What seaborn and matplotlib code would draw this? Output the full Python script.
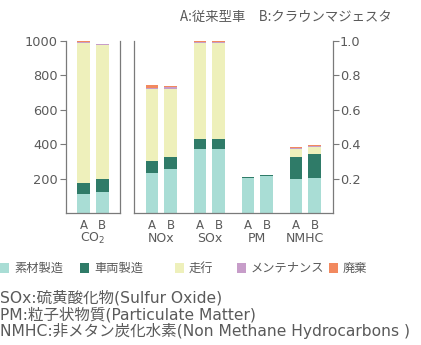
import numpy as np
import pandas as pd
import matplotlib
matplotlib.use("Agg")
import matplotlib.pyplot as plt
import matplotlib.patches as mpatches
import seaborn as sns

# ---- data -------------------------------------------------------------
cars = ["A", "B"]
stages = ["素材製造", "車両製造", "走行", "メンテナンス", "廃棄"]
stage_colors = ["#a9ddd5", "#2f7b68", "#eef0bb", "#c79dc9", "#f2895f"]

# CO2 (left axis, 0-1000), values per stage for A and B
co2_A = [113, 64, 813, 5, 5]
co2_B = [122, 74, 779, 5, 4]

# other emissions (right axis, relative 0-1.0)
pollutants = ["NOx", "SOx", "PM", "NMHC"]
nox_A = [0.233, 0.071, 0.419, 0.006, 0.014]
nox_B = [0.253, 0.071, 0.399, 0.012, 0.005]
sox_A = [0.371, 0.060, 0.555, 0.008, 0.004]
sox_B = [0.371, 0.060, 0.555, 0.008, 0.004]
pm_A = [0.203, 0.008, 0.0, 0.0, 0.0]
pm_B = [0.215, 0.004, 0.0, 0.0, 0.0]
nmhc_A = [0.195, 0.129, 0.049, 0.006, 0.004]
nmhc_B = [0.201, 0.143, 0.039, 0.006, 0.006]

left_ticks = [200, 400, 600, 800, 1000]
right_ticks = [0.2, 0.4, 0.6, 0.8, 1.0]
right_tick_labels = ["0.2", "0.4", "0.6", "0.8", "1.0"]

title_text = "A:従来型車　B:クラウンマジェスタ"
notes = [
    "SOx:硫黄酸化物(Sulfur Oxide)",
    "PM:粒子状物質(Particulate Matter)",
    "NMHC:非メタン炭化水素(Non Methane Hydrocarbons )",
]

# ---- style ------------------------------------------------------------
sns.set_theme(style="white")
plt.rcParams["font.family"] = ["Noto Sans CJK JP", "DejaVu Sans"]
plt.rcParams["mathtext.default"] = "regular"
LATIN = ["DejaVu Sans", "Noto Sans CJK JP"]
TXT = "#5a5a5a"
SPINE = "#7a7a7a"

W, H = 421, 345
fig = plt.figure(figsize=(W / 100, H / 100), dpi=100)


def px_axes(x0, x1, y0, y1):
    return fig.add_axes([x0 / W, 1 - y1 / H, (x1 - x0) / W, (y1 - y0) / H])


def long_table(names, rows):
    recs = []
    for name, (a, b) in zip(names, rows):
        for car, vals in zip(cars, (a, b)):
            cum = np.cumsum(vals)
            for k, st in enumerate(stages):
                recs.append({"cat": name, "car": car, "stage": st, "cum": cum[k]})
    return pd.DataFrame(recs)


def stacked(ax, df, order):
    # draw cumulative totals from the top stage down so each layer shows
    for k in range(len(stages) - 1, -1, -1):
        sub = df[df["stage"] == stages[k]]
        sns.barplot(data=sub, x="cat", y="cum", hue="car", order=order,
                    hue_order=cars, palette={c: stage_colors[k] for c in cars},
                    dodge=True, width=0.77, gap=0.3, legend=False, ax=ax,
                    linewidth=0, clip_on=False, saturation=1, errorbar=None)


def x_labels(ax, order):
    pos, labs = [], []
    for i, _ in enumerate(order):
        for j, car in enumerate(cars):
            pos.append(i + (j - 0.5) * 0.385)
            labs.append(car)
    ax.set_xticks(pos, labs)
    ax.tick_params(axis="x", length=0, pad=4, labelsize=8.5, colors=TXT)
    for t in ax.get_xticklabels():
        t.set_family(LATIN)
    for i, name in enumerate(order):
        ax.annotate(name, xy=(i, 0), xycoords=("data", "axes fraction"),
                    xytext=(0, -18.5), textcoords="offset points",
                    ha="center", va="center", fontsize=9, color=TXT,
                    family=LATIN)


# ---- CO2 panel --------------------------------------------------------
ax1 = px_axes(66, 120, 41, 213)
co2_df = long_table(["CO$_2$"], [(co2_A, co2_B)])
stacked(ax1, co2_df, ["CO$_2$"])
ax1.set_xlim(-0.5625, 0.5625)
ax1.set_ylim(0, 1000)
ax1.set_yticks(left_ticks, [str(t) for t in left_ticks])
ax1.tick_params(axis="y", left=True, direction="out", length=4, width=0.8,
                color=SPINE, labelsize=9.3, labelcolor=TXT, pad=2)
x_labels(ax1, ["CO$_2$"])

# ---- other emissions panel ------------------------------------------
ax2 = px_axes(134, 333, 41, 213)
oth_df = long_table(pollutants, [(nox_A, nox_B), (sox_A, sox_B),
                                 (pm_A, pm_B), (nmhc_A, nmhc_B)])
stacked(ax2, oth_df, pollutants)
ax2.set_xlim(-0.568, 3.578)
ax2.set_ylim(0, 1.0)
ax2.yaxis.tick_right()
ax2.set_yticks(right_ticks, right_tick_labels)
ax2.tick_params(axis="y", right=True, left=False, direction="out", length=4,
                width=0.8, color=SPINE, labelsize=9.3, labelcolor=TXT, pad=1)
x_labels(ax2, pollutants)

for ax in (ax1, ax2):
    ax.set_xlabel("")
    ax.set_ylabel("")
    for t in ax.get_yticklabels():
        t.set_family(LATIN)
    ax.spines["top"].set_visible(False)
    for s in ("left", "right", "bottom"):
        ax.spines[s].set_visible(True)
        ax.spines[s].set_color(SPINE)
        ax.spines[s].set_linewidth(0.9)
    ax.set_facecolor("none")

# ---- title, legend, notes --------------------------------------------
fig.text(286 / W, 1 - 17 / H, title_text, ha="center", va="center",
         fontsize=9.6, color=TXT)

# legend row: colour square followed by its stage name
legend_x = [0, 80, 175, 237, 329]
for x0, st, col in zip(legend_x, stages, stage_colors):
    fig.patches.append(mpatches.Rectangle((x0 / W, 1 - 273 / H), 9 / W, 10 / H,
                                          transform=fig.transFigure,
                                          facecolor=col, edgecolor="none"))
    fig.text((x0 + 14) / W, 1 - 268 / H, st, ha="left", va="center",
             fontsize=8.8, color=TXT)

for i, line in enumerate(notes):
    fig.text(0.5 / W, 1 - (298 + 16.5 * i) / H, line, ha="left", va="center",
             fontsize=11.2, color=TXT, family=LATIN)

fig.savefig("out.png", dpi=100, facecolor="white")
